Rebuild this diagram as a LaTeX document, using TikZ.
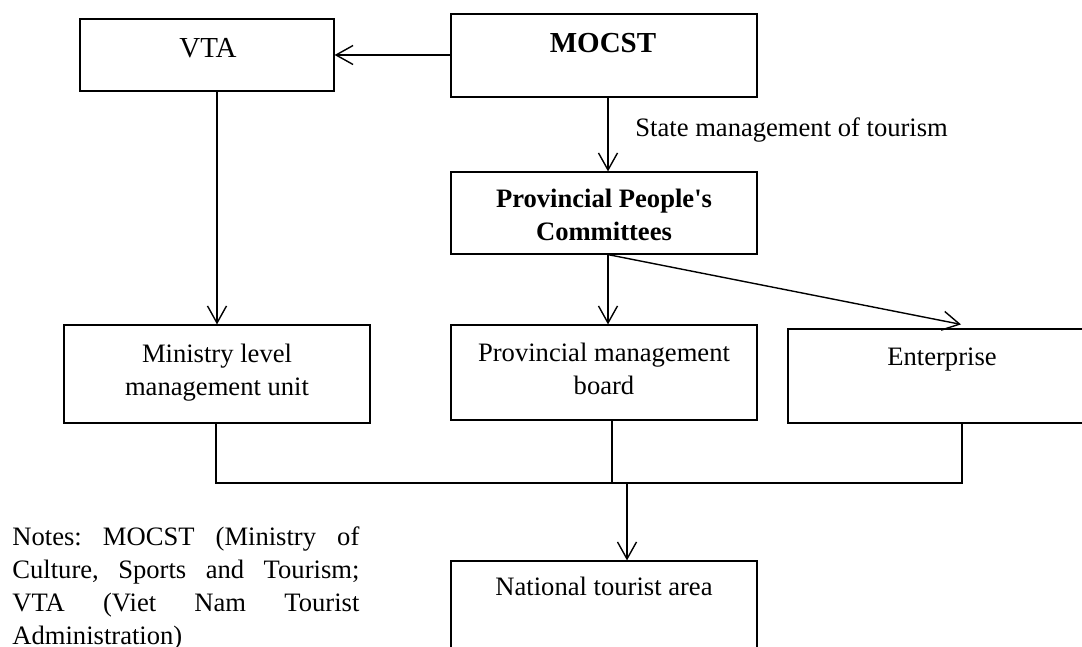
\documentclass[tikz,border=0pt]{standalone}
\usepackage{fontspec}
\setmainfont{Liberation Serif}
\usetikzlibrary{arrows.meta}
\begin{document}
\frenchspacing
\begin{tikzpicture}[x=0.5pt,y=-0.5pt,
  bx/.style 2 args={draw, line width=0.6pt, minimum width=#1*0.5pt, minimum height=#2*0.5pt, inner sep=0pt},
  arr/.style={line width=0.7pt, -{Straight Barb[length=8.5pt,width=9.5pt,line width=0.7pt]}},
  ln/.style={line width=0.7pt},
  txt/.style={inner sep=0pt, anchor=base, align=center, font=\fontsize{13.3}{16.5}\selectfont},
  big/.style={inner sep=0pt, anchor=base, font=\fontsize{14.5}{17}\selectfont}]
\useasboundingbox (0,0) rectangle (1082,647);
\clip (0,0) rectangle (1082,647);
% boxes
\node[bx={254}{72}] (vta) at (207,55) {};
\node[bx={306}{83}] (mocst) at (604,55.5) {};
\node[bx={306}{82}] (ppc) at (604,213) {};
\node[bx={306}{98}] (min) at (217,374) {};
\node[bx={306}{95}] (pmb) at (604,372.5) {};
\node[bx={308}{94}] (ent) at (942,376) {};
\node[bx={306}{98}] (nat) at (604,610) {};
% texts
\node[big] (tvta) at (208,58) {VTA};
\node[big] (tmocst) at (603,53) {\bfseries MOCST};
\node[txt] (tppc) at (604,240) {\bfseries Provincial People\textquotesingle s\\\bfseries Committees};
\node[txt] (tmin) at (217,395) {Ministry level\\management unit};
\node[txt] (tpmb) at (604,394) {Provincial management\\board};
\node[txt] (tent) at (942,365) {Enterprise};
\node[txt] (tnat) at (604,595) {National tourist area};
\node[txt, anchor=base west] (lbl) at (635,137) {State management of tourism};
\node[txt, anchor=base west, text width=173.5pt, align=justify] (notes) at (12,545)
  {\hyphenpenalty=10000 \frenchspacing Notes: MOCST (Ministry of\linebreak Culture, Sports and Tourism;\linebreak VTA (Viet Nam Tourist\linebreak Administration)};
% connectors
\draw[arr] (mocst.west |- vta.east) -- (vta.east);
\draw[arr] (vta.south -| min.north) -- (min.north);
\draw[arr] ([xshift=2pt]mocst.south) -- ([xshift=2pt]ppc.north);
\draw[arr] ([xshift=2pt]ppc.south) -- ([xshift=2pt]pmb.north);
\coordinate (entin) at ([xshift=9.5pt,yshift=2pt]ent.north);
\draw[arr] ([xshift=2pt]ppc.south) -- (entin);
\coordinate (bus) at (216,483);
\coordinate (entout) at ([xshift=10pt]ent.south);
\coordinate (pmbout) at ([xshift=4pt]pmb.south);
\draw[ln] ([xshift=-0.5pt]min.south) |- (bus) -- (bus -| entout) -- (entout);
\draw[ln] (pmbout) -- (pmbout |- bus);
\coordinate (natin) at ([xshift=11.5pt]nat.north);
\draw[arr] (natin |- bus) -- (natin);
\end{tikzpicture}
\end{document}
